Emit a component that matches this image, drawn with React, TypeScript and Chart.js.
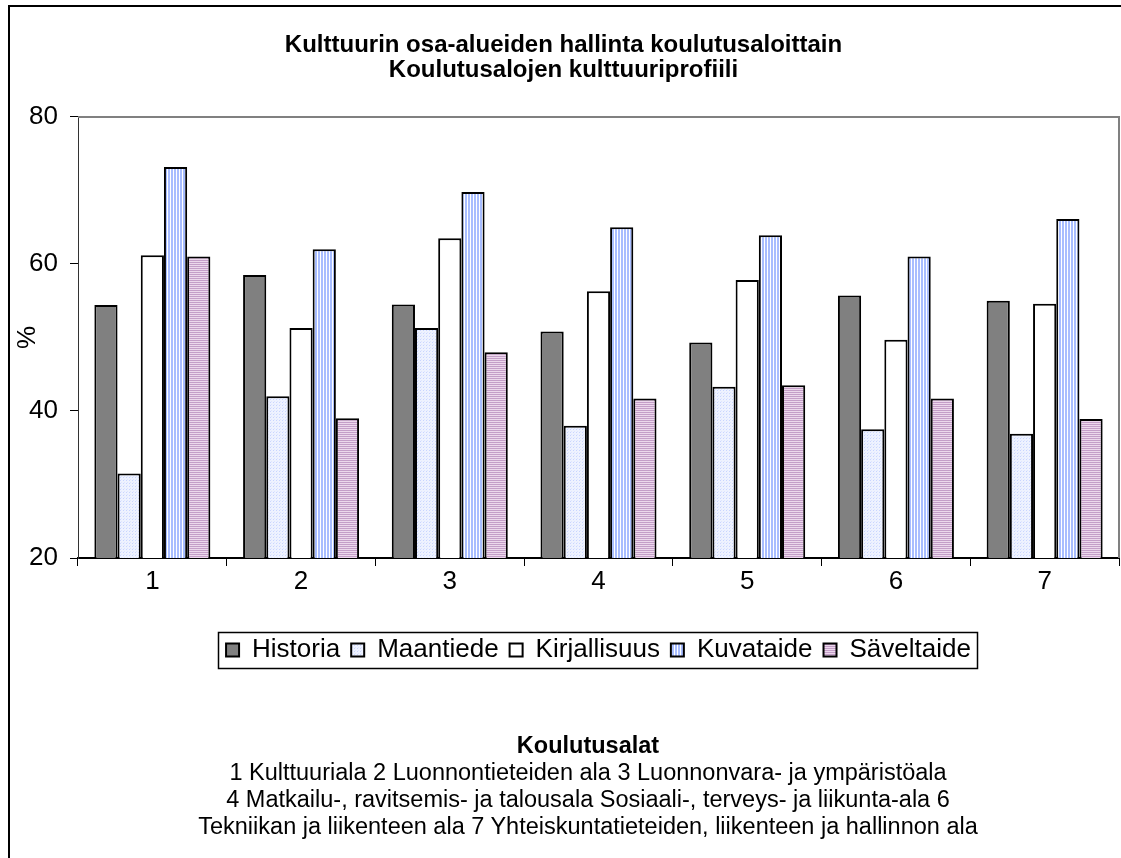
import React, { useEffect, useRef } from "react";
import { Chart, registerables } from "chart.js";

Chart.register(...registerables);

const categories = ["1", "2", "3", "4", "5", "6", "7"];
const seriesNames = ["Historia", "Maantiede", "Kirjallisuus", "Kuvataide", "Säveltaide"];
const historia = [54.4, 58.5, 54.5, 50.8, 49.3, 55.7, 55.0];
const maantiede = [31.5, 42.0, 51.3, 38.0, 43.3, 37.5, 36.9];
const kirjallisuus = [61.2, 51.3, 63.5, 56.3, 57.8, 49.7, 54.6];
const kuvataide = [73.2, 62.0, 69.8, 65.0, 63.9, 61.0, 66.1];
const saveltaide = [61.0, 39.0, 48.0, 41.7, 43.5, 41.7, 38.9];
const yTicks = [20, 40, 60, 80];
const titleLines = ["Kulttuurin osa-alueiden hallinta koulutusaloittain", "Koulutusalojen kulttuuriprofiili"];
const yTitle = "%";
const footTitle = "Koulutusalat";
const footLines = [
  "1 Kulttuuriala 2 Luonnontieteiden ala 3 Luonnonvara- ja ympäristöala",
  "4 Matkailu-, ravitsemis- ja talousala Sosiaali-, terveys- ja liikunta-ala 6",
  "Tekniikan ja liikenteen ala 7 Yhteiskuntatieteiden, liikenteen ja hallinnon ala",
];

const FONT = "'Liberation Sans', Arial, sans-serif";

function makePattern(kind: string): CanvasPattern | string {
  const c = document.createElement("canvas");
  const ctx = c.getContext("2d");
  if (!ctx) return "#ccc";
  if (kind === "dots") {
    c.width = 3; c.height = 3;
    ctx.fillStyle = "#eef2ff"; ctx.fillRect(0, 0, 3, 3);
    ctx.fillStyle = "#c9d5ff"; ctx.fillRect(0, 0, 1, 1);
    ctx.fillStyle = "#dde5ff"; ctx.fillRect(1, 2, 1, 1);
  } else if (kind === "vstripes") {
    c.width = 3; c.height = 3;
    ctx.fillStyle = "#ffffff"; ctx.fillRect(0, 0, 3, 3);
    ctx.fillStyle = "#a8bdff"; ctx.fillRect(0, 0, 2, 3);
  } else {
    c.width = 2; c.height = 2;
    ctx.fillStyle = "#ecd8ec"; ctx.fillRect(0, 0, 2, 2);
    ctx.fillStyle = "#c49ec8"; ctx.fillRect(0, 0, 2, 1);
  }
  const p = ctx.createPattern(c, "repeat");
  return p || "#ccc";
}

const frameAndLegendBox = {
  id: "frameAndLegendBox",
  beforeDatasetsDraw(chart: any) {
    const { ctx, chartArea } = chart;
    ctx.save();
    ctx.strokeStyle = "#808080";
    ctx.lineWidth = 2;
    ctx.beginPath();
    ctx.moveTo(chartArea.left, chartArea.top);
    ctx.lineTo(chartArea.right, chartArea.top);
    ctx.lineTo(chartArea.right, chartArea.bottom);
    ctx.stroke();
    ctx.restore();
  },
  afterDraw(chart: any) {
    const lg = chart.legend;
    if (!lg || !lg.legendHitBoxes || !lg.legendHitBoxes.length) return;
    const hb = lg.legendHitBoxes;
    let l = Infinity, r = -Infinity, t = Infinity, b = -Infinity;
    hb.forEach((h: any) => {
      l = Math.min(l, h.left); r = Math.max(r, h.left + h.width);
      t = Math.min(t, h.top); b = Math.max(b, h.top + h.height);
    });
    const ctx = chart.ctx;
    ctx.save();
    ctx.strokeStyle = "#000";
    ctx.lineWidth = 1.5;
    ctx.strokeRect(Math.round(l - 8) + 0.5, Math.round(t - 5) + 0.5, Math.round(r - l + 14), Math.round(b - t + 10));
    ctx.restore();
  },
};

export default function App() {
  const ref = useRef<HTMLCanvasElement | null>(null);
  useEffect(() => {
    if (!ref.current) return;
    const fills = ["#808080", makePattern("dots"), "#ffffff", makePattern("vstripes"), makePattern("hstripes")];
    const values = [historia, maantiede, kirjallisuus, kuvataide, saveltaide];
    const chart = new Chart(ref.current, {
      type: "bar",
      data: {
        labels: categories,
        datasets: seriesNames.map((name, i) => ({
          label: name,
          data: values[i],
          backgroundColor: fills[i] as any,
          borderColor: "#000",
          borderWidth: 2,
          categoryPercentage: 0.78,
          barPercentage: 1,
        })),
      },
      options: {
        responsive: false,
        animation: false,
        devicePixelRatio: 1,
        layout: { padding: { left: 8, right: 2, top: 0, bottom: 185 } },
        plugins: {
          title: {
            display: true,
            text: titleLines,
            color: "#000",
            font: { family: FONT, size: 24, weight: "bold", lineHeight: 1.04 },
            padding: { top: 33, bottom: 34 },
          },
          legend: {
            display: true,
            position: "bottom",
            fullSize: false,
            labels: {
              color: "#000",
              font: { family: FONT, size: 26 },
              boxWidth: 13,
              boxHeight: 13,
              padding: 11,
              generateLabels: (ch: any) =>
                ch.data.datasets.map((ds: any, i: number) => ({
                  text: ds.label,
                  fillStyle: ds.backgroundColor,
                  strokeStyle: "#000",
                  lineWidth: 2,
                  hidden: false,
                  datasetIndex: i,
                  fontColor: "#000",
                })),
            },
          },
          tooltip: { enabled: false },
        },
        scales: {
          x: {
            offset: true,
            grid: { offset: true, drawOnChartArea: false, drawTicks: true, tickLength: 8, color: "#000", lineWidth: 1 },
            border: { display: true, color: "#000", width: 2 },
            ticks: { color: "#000", font: { family: FONT, size: 26 }, padding: 0 },
            afterFit: (s: any) => { s.height = 68; },
          },
          y: {
            min: 20,
            max: 80,
            afterBuildTicks: (s: any) => { s.ticks = yTicks.map((v) => ({ value: v })); },
            grid: { drawOnChartArea: false, drawTicks: true, tickLength: 8, color: "#000" },
            border: { display: true, color: "#333", width: 1 },
            ticks: { color: "#000", font: { family: FONT, size: 26 }, padding: 12 },
            title: { display: true, text: yTitle, color: "#000", font: { family: FONT, size: 26 }, padding: { top: 4, bottom: 0 } },
            afterFit: (s: any) => { s.width = 70; },
          },
        },
      },
      plugins: [frameAndLegendBox],
    });
    return () => chart.destroy();
  }, []);

  return (
    <div style={{ position: "fixed", left: 0, top: 0, width: 1121, height: 858, overflow: "hidden", background: "#fff" }}>
      <div style={{ position: "absolute", left: 8, top: 5, width: 1300, height: 1000, borderLeft: "2px solid #000", borderTop: "2px solid #000" }} />
      <canvas ref={ref} width={1121} height={858} style={{ position: "absolute", left: 0, top: 0, width: 1121, height: 858 }} />
      <div style={{ position: "absolute", left: 0, top: 732, width: 1176, textAlign: "center", fontFamily: FONT, fontSize: 23.5, lineHeight: "27px", color: "#000" }}>
        <div style={{ fontWeight: "bold" }}>{footTitle}</div>
        {footLines.map((t, i) => (
          <div key={i}>{t}</div>
        ))}
      </div>
    </div>
  );
}
